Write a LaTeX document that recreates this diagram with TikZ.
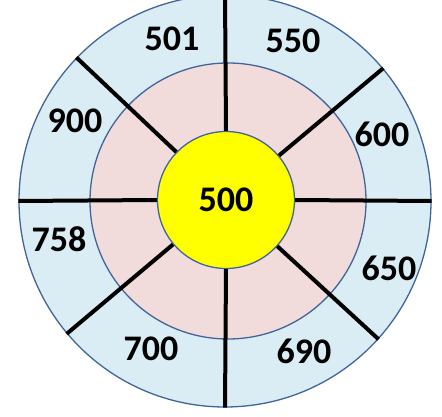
\documentclass[tikz,border=0pt]{standalone}
\usepackage{fontspec}
\setmainfont{Carlito}
\usetikzlibrary{calc}
\definecolor{edge}{HTML}{41659A}
\definecolor{sky}{HTML}{DAEDF4}
\definecolor{blush}{HTML}{F2DCDB}
\definecolor{sun}{HTML}{FFFF00}
\tikzset{
  ring/.style={circle,draw=edge,line width=1.3pt,inner sep=0pt,minimum size=#1},
  spoke/.style={black,line width=4pt},
  num/.style={font=\fontsize{36}{42}\selectfont\bfseries,inner sep=0pt},
}
\begin{document}
\begin{tikzpicture}[x=1pt,y=-1pt]
\useasboundingbox (0,0) rectangle (442,417);
\node[ring=412pt,fill=sky] (rim) at (225,201) {};
\node[ring=276pt,fill=blush] (mid) at (228,201) {};
\node[ring=137pt,fill=sun,num] (hub) at (226,200) {500};
% spokes from the hub out to the rim
\foreach \a in {0,40,90,136,180,220,270,318}
  \draw[spoke] (hub.\a) -- (rim.\a);
\node[num] (n501) at (172,39) {501};
\node[num] (n550) at (293,41) {550};
\node[num] (n900) at (75,121) {900};
\node[num] (n600) at (382,134) {600};
\node[num] (n758) at (59,239) {758};
\node[num] (n650) at (389,268) {650};
\node[num] (n700) at (151,349) {700};
\node[num] (n690) at (304,351) {690};
\end{tikzpicture}
\end{document}
